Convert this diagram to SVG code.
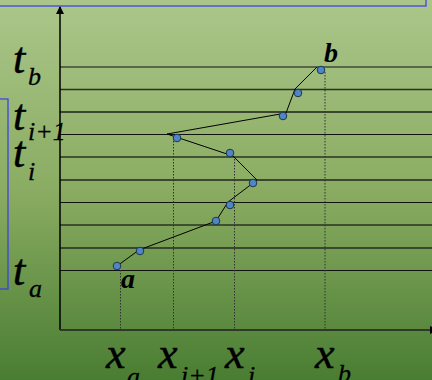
<svg xmlns="http://www.w3.org/2000/svg" width="432" height="380" viewBox="0 0 432 380">
<defs>
<linearGradient id="bg" x1="0" y1="0" x2="0" y2="1">
<stop offset="0" stop-color="#abc68a"/>
<stop offset="0.5" stop-color="#8aac62"/>
<stop offset="1" stop-color="#497d32"/>
</linearGradient>
<marker id="arr" markerWidth="8" markerHeight="8" refX="7" refY="4" orient="auto" markerUnits="userSpaceOnUse">
<path d="M0,0 L8,4 L0,8 Z" fill="#000"/>
</marker>
<style>
.hl{stroke:#111;stroke-width:1.2;fill:none}
.hm{stroke:#2a3322;stroke-width:1.6;fill:none}
.ht{stroke:#3b4630;stroke-width:2.2;fill:none}
.dot{stroke:#333;stroke-width:1;stroke-dasharray:1.5,1.5;fill:none}
.pt{fill:#4f86c6;stroke:#1f3550;stroke-width:1}
.box{fill:none;stroke:#3a3af0;stroke-width:1.2}
.lab{font-family:"Liberation Serif","Times New Roman",serif;font-style:italic;fill:#000;stroke:#000;stroke-width:0.5}
.big{font-size:44px}
.sub{font-size:26px;stroke-width:0.3}
.bl{font-family:"Liberation Serif","Times New Roman",serif;font-style:italic;font-weight:bold;font-size:28px;fill:#000}
</style>
</defs>
<rect width="432" height="380" fill="url(#bg)"/>
<g id="boxes">
<rect class="box" x="-2" y="-2" width="428" height="8"/>
<rect class="box" x="-2" y="99" width="10" height="190"/>
</g>
<g id="grid">
<line class="hl" x1="60" y1="67" x2="432" y2="67"/>
<line class="hm" x1="60" y1="89.5" x2="432" y2="89.5"/>
<line class="ht" x1="60" y1="112" x2="432" y2="112"/>
<line class="hl" x1="60" y1="134.5" x2="432" y2="134.5"/>
<line class="hm" x1="60" y1="157" x2="432" y2="157"/>
<line class="ht" x1="60" y1="180" x2="432" y2="180"/>
<line class="hl" x1="60" y1="202.5" x2="432" y2="202.5"/>
<line class="hm" x1="60" y1="225" x2="432" y2="225"/>
<line class="ht" x1="60" y1="248" x2="432" y2="248"/>
<line class="hl" x1="60" y1="270.5" x2="432" y2="270.5"/>
</g>
<g id="connectors">
<line x1="60" y1="330" x2="60" y2="7" stroke="#000" stroke-width="1.5" marker-end="url(#arr)"/>
<line x1="60" y1="330" x2="437" y2="330" stroke="#2e3a26" stroke-width="2.2" marker-end="url(#arr)"/>
<path class="dot" d="M120.5,270 V330 M173.5,138 V330 M234.5,156 V330 M325,72 V330"/>
<polyline fill="none" stroke="#000" stroke-width="1" points="317,67 295,89 286,113 167,134 233,156 257,180 228,202 216,221 139,250 117,266"/>
</g>
<g id="points">
<circle class="pt" cx="321" cy="70" r="3.8"/>
<circle class="pt" cx="298" cy="93" r="3.8"/>
<circle class="pt" cx="283" cy="116" r="3.8"/>
<circle class="pt" cx="177" cy="138" r="3.8"/>
<circle class="pt" cx="230" cy="153" r="3.8"/>
<circle class="pt" cx="253" cy="183" r="3.8"/>
<circle class="pt" cx="230" cy="205" r="3.8"/>
<circle class="pt" cx="216" cy="221" r="3.8"/>
<circle class="pt" cx="140" cy="251" r="3.8"/>
<circle class="pt" cx="117" cy="266" r="3.8"/>
</g>
<g id="labels">
<text class="bl" x="324" y="62">b</text>
<text class="bl" x="121" y="288">a</text>
<text class="lab big" x="13" y="73">t</text><text class="lab sub" x="28" y="85">b</text>
<text class="lab big" x="13" y="130">t</text><text class="lab sub" x="28" y="140">i+1</text>
<text class="lab big" x="13" y="167">t</text><text class="lab sub" x="28" y="180">i</text>
<text class="lab big" x="13" y="285">t</text><text class="lab sub" x="29" y="297">a</text>
<text class="lab big" x="106" y="368">x</text><text class="lab sub" x="127" y="385">a</text>
<text class="lab big" x="158" y="368">x</text><text class="lab sub" x="181" y="384">i+1</text>
<text class="lab big" x="225" y="368">x</text><text class="lab sub" x="248" y="384">i</text>
<text class="lab big" x="315" y="368">x</text><text class="lab sub" x="338" y="382">b</text>
</g>
</svg>
